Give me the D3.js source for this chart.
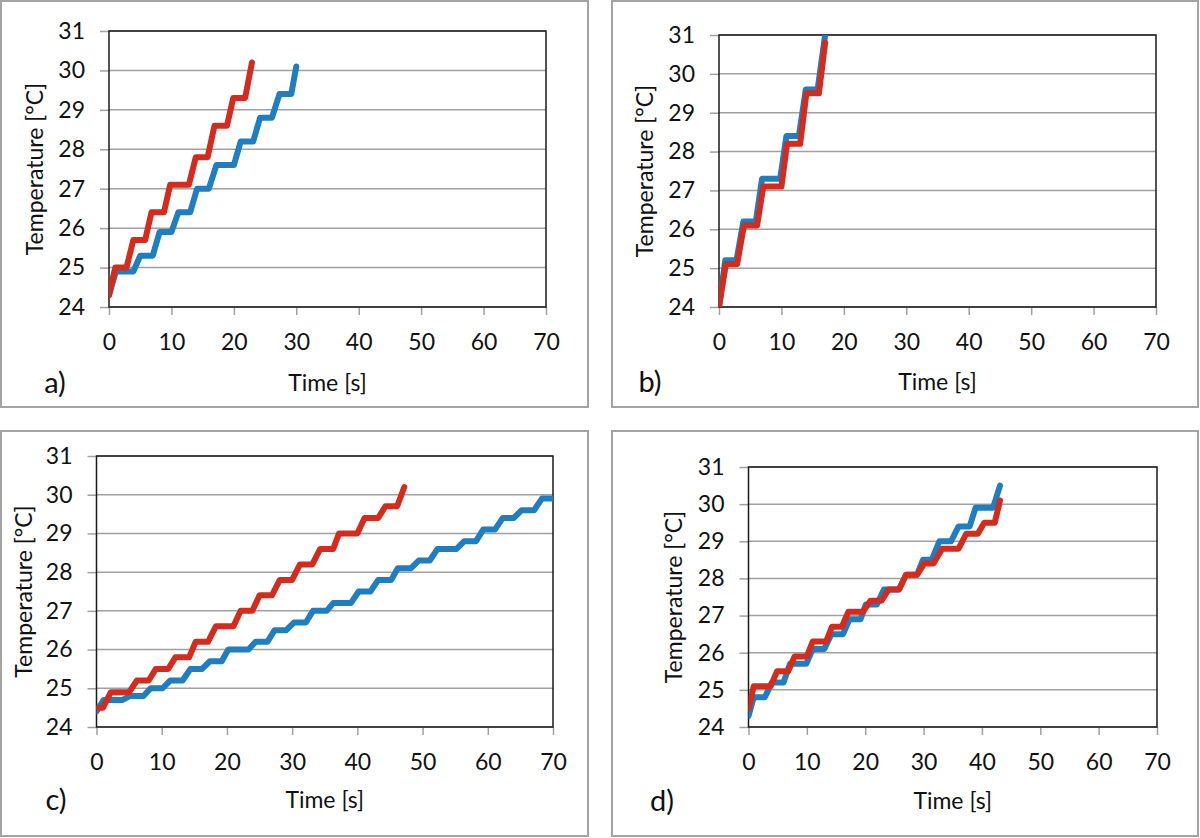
<!DOCTYPE html>
<html><head><meta charset="utf-8">
<script src="https://cdn.jsdelivr.net/npm/d3@7"></script>
<style>html,body{margin:0;padding:0;background:#fff;} svg{display:block;}</style>
</head><body>
<svg id="chart" width="1200" height="838"></svg>
<script>
// ---- data ----
const xTicks = [0, 10, 20, 30, 40, 50, 60, 70];
const yTicks = [24, 25, 26, 27, 28, 29, 30, 31];
const panelLabels = ["a)", "b)", "c)", "d)"];
const xTitle = "Time [s]";
const yTitle = "Temperature [°C]";

const aBlueT = [0, 1.1, 3.9, 5.0, 7.0, 8.1, 10.0, 11.1, 13.0, 14.1, 16.0, 17.2, 20.0, 21.1, 23.1, 24.2, 26.1, 27.3, 29.2, 30.0];
const aBlueY = [24.3, 24.9, 24.9, 25.3, 25.3, 25.9, 25.9, 26.4, 26.4, 27.0, 27.0, 27.6, 27.6, 28.2, 28.2, 28.8, 28.8, 29.4, 29.4, 30.1];
const aRedT = [0, 1, 2.8, 3.9, 5.8, 6.8, 8.8, 9.8, 12.8, 13.9, 15.8, 16.9, 18.9, 19.9, 21.8, 22.9];
const aRedY = [24.3, 25.0, 25.0, 25.7, 25.7, 26.4, 26.4, 27.1, 27.1, 27.8, 27.8, 28.6, 28.6, 29.3, 29.3, 30.2];

const bBlueT = [0, 1.0, 2.8, 3.9, 5.9, 6.9, 9.8, 10.8, 12.8, 13.9, 15.8, 17.0];
const bBlueY = [24.0, 25.2, 25.2, 26.2, 26.2, 27.3, 27.3, 28.4, 28.4, 29.6, 29.6, 31.0];
const bRedT = [0, 1.1, 2.9, 4.0, 6.1, 7.1, 10.0, 10.9, 13.0, 14.0, 16.0, 17.0];
const bRedY = [24.0, 25.1, 25.1, 26.1, 26.1, 27.1, 27.1, 28.2, 28.2, 29.5, 29.5, 30.8];

const cBlueT = [0, 1.1, 4.0, 5.1, 7.2, 8.3, 10.1, 11.3, 13.2, 14.4, 16.2, 17.4, 19.2, 20.2, 23.3, 24.4, 26.2, 27.3, 29.1, 30.3, 32.1, 33.2, 35.3, 36.3, 39.0, 40.2, 42.0, 43.2, 45.2, 46.2, 48.2, 49.4, 51.1, 52.3, 55.2, 56.4, 58.2, 59.3, 61.1, 62.3, 64.0, 65.2, 67.1, 68.3, 70];
const cBlueY = [24.4, 24.7, 24.7, 24.8, 24.8, 25.0, 25.0, 25.2, 25.2, 25.5, 25.5, 25.7, 25.7, 26.0, 26.0, 26.2, 26.2, 26.5, 26.5, 26.7, 26.7, 27.0, 27.0, 27.2, 27.2, 27.5, 27.5, 27.8, 27.8, 28.1, 28.1, 28.3, 28.3, 28.6, 28.6, 28.8, 28.8, 29.1, 29.1, 29.4, 29.4, 29.6, 29.6, 29.9, 29.9];
const cRedT = [0, 1.0, 2.2, 5.0, 6.2, 8.0, 9.1, 11.0, 12.1, 14.2, 15.2, 17.1, 18.3, 21.0, 22.1, 23.9, 25.0, 26.9, 28.1, 30.0, 31.2, 33.1, 34.3, 36.3, 37.2, 40.0, 41.1, 43.2, 44.3, 46.1, 47.2];
const cRedY = [24.5, 24.5, 24.9, 24.9, 25.2, 25.2, 25.5, 25.5, 25.8, 25.8, 26.2, 26.2, 26.6, 26.6, 27.0, 27.0, 27.4, 27.4, 27.8, 27.8, 28.2, 28.2, 28.6, 28.6, 29.0, 29.0, 29.4, 29.4, 29.7, 29.7, 30.2];

const dBlueT = [0, 0.9, 2.8, 4.0, 6.0, 7.1, 9.9, 11.0, 13.0, 14.2, 16.2, 17.3, 19.2, 20.1, 22.0, 23.2, 25.8, 27.0, 28.9, 29.9, 31.4, 32.7, 34.7, 36.0, 37.9, 38.9, 41.9, 43.1];
const dBlueY = [24.3, 24.8, 24.8, 25.2, 25.2, 25.7, 25.7, 26.1, 26.1, 26.5, 26.5, 26.9, 26.9, 27.3, 27.3, 27.7, 27.7, 28.1, 28.1, 28.5, 28.5, 29.0, 29.0, 29.4, 29.4, 29.9, 29.9, 30.5];
const dRedT = [0, 0.9, 3.8, 4.9, 6.8, 7.9, 10.0, 11.0, 13.3, 14.3, 16.0, 17.1, 19.6, 20.9, 22.8, 24.0, 25.8, 27.0, 28.9, 30.1, 31.7, 33.2, 36.0, 37.3, 39.3, 40.4, 42.2, 43.1];
const dRedY = [24.5, 25.1, 25.1, 25.5, 25.5, 25.9, 25.9, 26.3, 26.3, 26.7, 26.7, 27.1, 27.1, 27.4, 27.4, 27.7, 27.7, 28.1, 28.1, 28.4, 28.4, 28.8, 28.8, 29.2, 29.2, 29.5, 29.5, 30.1];

// ---- layout (positions & styles) ----
const BLUE = "#1f7dc1", RED = "#d42b1c";
const FONT = "Lato, 'Open Sans', sans-serif";
const TICK_FS = 23, TITLE_FS = 23, LABEL_FS = 29;
const panels = [
  {box:[0,0,589,408],   plot:[109,546,31,307],   label:[55,383],  yTitleX:35,  xTitleY:383, blue:[aBlueT,aBlueY], red:[aRedT,aRedY]},
  {box:[611,0,1199,408],plot:[719,1156,35,307],  label:[650,382], yTitleX:645, xTitleY:382, blue:[bBlueT,bBlueY], red:[bRedT,bRedY]},
  {box:[0,430,589,837], plot:[96.5,553,456,727], label:[56,800],  yTitleX:24,  xTitleY:800, blue:[cBlueT,cBlueY], red:[cRedT,cRedY]},
  {box:[611,430,1199,837],plot:[748.5,1157,467,727],label:[662,801],yTitleX:674,xTitleY:801, blue:[dBlueT,dBlueY], red:[dRedT,dRedY]}
];

const svg = d3.select("#chart");

panels.forEach((p, i) => {
  const [bx0, by0, bx1, by1] = p.box;
  svg.append("rect").attr("x", bx0 + 1).attr("y", by0 + 1)
    .attr("width", bx1 - bx0 - 2).attr("height", by1 - by0 - 2)
    .attr("fill", "#fff").attr("stroke", "#a3a3a3").attr("stroke-width", 2);

  const [L, R, T, B] = p.plot;
  const x = d3.scaleLinear().domain([0, 70]).range([L, R]);
  const y = d3.scaleLinear().domain([24, 31]).range([B, T]);
  const g = svg.append("g");

  // gridlines
  g.selectAll(".grid").data(yTicks).join("line")
    .attr("x1", L).attr("x2", R).attr("y1", d => y(d)).attr("y2", d => y(d))
    .attr("stroke", "#a0a0a0").attr("stroke-width", 1.5);

  // y axis
  const ya = g.append("g").attr("transform", `translate(${L},0)`)
    .call(d3.axisLeft(y).tickValues(yTicks).tickSize(9).tickPadding(15).tickFormat(d3.format("d")));
  ya.select(".domain").remove();
  ya.selectAll(".tick line").attr("stroke", "#a0a0a0").attr("stroke-width", 1.5);
  ya.selectAll(".tick text").attr("font-family", FONT).attr("font-size", TICK_FS).attr("fill", "#111");

  // x axis
  const xa = g.append("g").attr("transform", `translate(0,${B})`)
    .call(d3.axisBottom(x).tickValues(xTicks).tickSize(8).tickPadding(19).tickFormat(d3.format("d")));
  xa.select(".domain").remove();
  xa.selectAll(".tick line").attr("stroke", "#a0a0a0").attr("stroke-width", 1.5);
  xa.selectAll(".tick text").attr("font-family", FONT).attr("font-size", TICK_FS).attr("fill", "#111");

  // plot border
  g.append("rect").attr("x", L).attr("y", T).attr("width", R - L).attr("height", B - T)
    .attr("fill", "none").attr("stroke", "#1a1a1a").attr("stroke-width", 1.5);

  // clip
  const cid = "clip" + i;
  svg.append("clipPath").attr("id", cid).append("rect")
    .attr("x", L).attr("y", T).attr("width", R - L).attr("height", B - T);

  const line = d3.line().x(d => x(d[0])).y(d => y(d[1]));
  const toPts = (s) => s[0].map((t, k) => [t, s[1][k]]);
  const lg = g.append("g").attr("clip-path", `url(#${cid})`);
  [[p.blue, BLUE], [p.red, RED]].forEach(([s, c]) => {
    lg.append("path").datum(toPts(s)).attr("d", line)
      .attr("fill", "none").attr("stroke", c).attr("stroke-width", 6)
      .attr("stroke-linejoin", "round").attr("stroke-linecap", "round");
  });

  // titles
  g.append("text").attr("x", (L + R) / 2).attr("y", p.xTitleY).attr("dy", "0.35em")
    .attr("text-anchor", "middle").attr("font-family", FONT).attr("font-size", TITLE_FS).attr("fill", "#111")
    .text(xTitle);
  g.append("text").attr("transform", `translate(${p.yTitleX},${(T + B) / 2}) rotate(-90)`)
    .attr("dy", "0.35em").attr("text-anchor", "middle").attr("font-family", FONT).attr("font-size", TITLE_FS).attr("fill", "#111")
    .text(yTitle);
  g.append("text").attr("x", p.label[0]).attr("y", p.label[1]).attr("dy", "0.35em")
    .attr("text-anchor", "middle").attr("font-family", FONT).attr("font-size", LABEL_FS).attr("fill", "#111")
    .text(panelLabels[i]);
});
</script>
</body></html>
